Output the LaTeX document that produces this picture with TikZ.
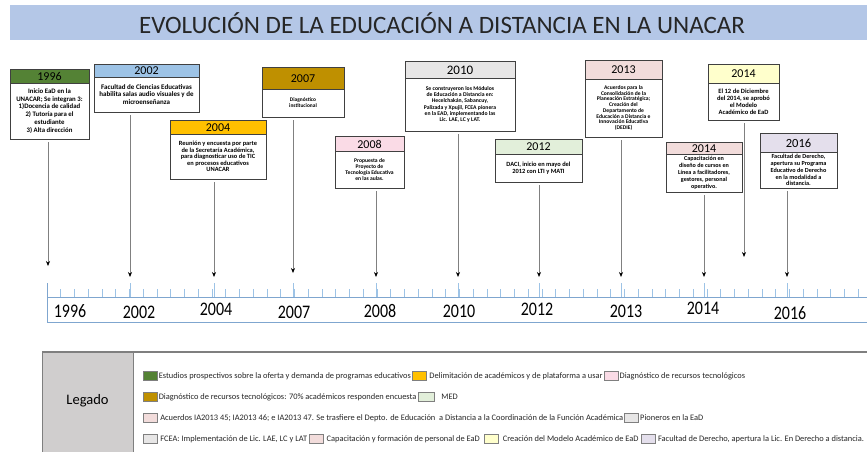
\documentclass[tikz,border=0pt]{standalone}
\usepackage{fontspec}
\setmainfont{Carlito}
\usetikzlibrary{arrows.meta,positioning}
\definecolor{titlebg}{HTML}{B4C7E7}
\definecolor{cgreen}{HTML}{548235}
\definecolor{cblue}{HTML}{9DC3E6}
\definecolor{cgold}{HTML}{FFC000}
\definecolor{cdgold}{HTML}{BF9000}
\definecolor{cpink}{HTML}{FADBE6}
\definecolor{cgray}{HTML}{E7E6E6}
\definecolor{cmed}{HTML}{E2EFDA}
\definecolor{crose}{HTML}{F2DCDB}
\definecolor{cyell}{HTML}{FFFFCC}
\definecolor{clav}{HTML}{E4DFEC}
\definecolor{boxline}{HTML}{404040}
\definecolor{connline}{HTML}{808080}
\definecolor{rulerline}{HTML}{7FA6CF}
\definecolor{tickcol}{HTML}{9DC3E6}
\definecolor{leggray}{HTML}{D0CECE}
\definecolor{legline}{HTML}{7F7F7F}
\definecolor{titletext}{HTML}{262626}
\newcommand{\fsz}[2]{\fontsize{#1}{#2}\selectfont}
\newcommand{\bfs}{}
\tikzset{
  evbox/.style={draw=boxline, line width=1.1pt, inner sep=0pt},
  hdrbox/.style={draw=boxline, line width=0.8pt, inner sep=0pt},
  bodytext/.style={align=center, inner sep=0pt, font=\bfseries\bfs},
  conn/.style={draw=connline, line width=0.7pt, -{Stealth[length=5pt,width=4pt,color=black]}},
  yearlbl/.style={font=\fontsize{16}{18}\selectfont, inner sep=0pt},
  sw/.style={draw=legline, line width=0.6pt, minimum width=14pt, minimum height=9pt, inner sep=0pt},
  lt/.style={font=\fontsize{8.4}{9}\selectfont, inner sep=1pt, text=black!85},
}
% name, x1, y1, x2, y2, header bottom, colour, year, body
\newcommand{\evt}[9]{%
  \node[hdrbox, fill=#7, minimum width={#4-#2}, minimum height={#6-#3}, anchor=north west] (#1-h) at (#2,#3) {};
  \node[inner sep=0pt] (#1-y) at ({(#2+#4)/2},{(#3+#6)/2+0.5}) {#8};
  \node[bodytext] (#1-t) at ({(#2+#4)/2},{(#6+#5)/2}) {#9};
  \node[evbox, minimum width={#4-#2}, minimum height={#5-#3}, anchor=north west] (#1) at (#2,#3) {};
}
\newcommand{\yr}[1]{\scalebox{1}[1.2]{#1}}
\begin{document}
\begin{tikzpicture}[x=1pt,y=-1pt]
\useasboundingbox (0,0) rectangle (867,451);
\fill[white] (0,0) rectangle (867,451);

% title
\node[fill=titlebg, minimum width=857pt, minimum height=35pt, anchor=north west, inner sep=0pt] (titlebar) at (10,5) {};
\node[text=titletext, font=\fontsize{25}{28}\selectfont, inner sep=0pt] (title) at (442,23) {EVOLUCIÓN DE LA EDUCACIÓN A DISTANCIA EN LA UNACAR};

% events
\renewcommand{\bfs}{\fsz{6.8}{7.8}}
\evt{e1996}{10}{69}{89}{139}{83}{cgreen}{\fsz{12}{13}1996}{Inicio EaD en la\\UNACAR; Se integran 3:\\1)Docencia de calidad\\2) Tutoría para el\\estudiante\\3) Alta dirección}
\renewcommand{\bfs}{\fsz{7}{7.4}}
\evt{e2002}{94}{64}{199}{112}{77}{cblue}{\fsz{12}{13}2002}{Facultad de Ciencias Educativas\\habilita salas audio visuales y de\\microenseñanza}
\renewcommand{\bfs}{\fsz{6.4}{6.6}}
\evt{e2004}{170}{120}{266}{179}{134}{cgold}{\fsz{12}{13}2004}{Reunión y encuesta por parte\\de la Secretaría Académica,\\para diagnosticar uso de TIC\\en procesos educativos\\UNACAR}
\renewcommand{\bfs}{\fsz{5.4}{6}}
\evt{e2007}{262}{67}{344}{117}{89}{cdgold}{\fsz{12}{13}2007}{Diagnóstico\\institucional}
\renewcommand{\bfs}{\fsz{5.6}{6.1}}
\evt{e2008}{335}{136}{404}{188}{151}{cpink}{\fsz{12}{13}2008}{Propuesta de\\Proyecto de\\Tecnología Educativa\\en las aulas.}
\renewcommand{\bfs}{\fsz{5.7}{6.2}}
\evt{e2010}{405}{61}{515}{131}{78}{cgray}{\fsz{13}{14}2010}{Se construyeron los Módulos\\de Educación a Distancia en:\\Hecelchakán, Sabancuy,\\Palizada y Xpujil, FCEA pionera\\en la EAD, implementando las\\Lic. LAE, LC y LAT.}
\renewcommand{\bfs}{\fsz{6.4}{6.6}}
\evt{e2012}{495}{139}{582}{182}{154}{cmed}{\fsz{12}{13}2012}{DACI, inicio en mayo del\\2012 con LTI y MATI}
\renewcommand{\bfs}{\fsz{5.6}{5.7}}
\evt{e2013}{585}{60}{662}{137}{79}{crose}{\fsz{12}{13}2013}{Acuerdos para la\\Consolidación de la\\Planeación Estratégica;\\Creación del\\Departamento de\\Educación a Distancia e\\Innovación Educativa\\(DEDIE)}
\renewcommand{\bfs}{\fsz{6.5}{7.1}}
\evt{e2014a}{708}{64}{779}{120}{83}{cyell}{\fsz{12}{13}2014}{El 12 de Diciembre\\del 2014, se aprobó\\el Modelo\\Académico de EaD}
\renewcommand{\bfs}{\fsz{6.1}{6.9}}
\evt{e2014b}{666}{142}{742}{192}{154}{crose}{\fsz{12}{13}2014}{Capacitación en\\diseño de cursos en\\Línea a facilitadores,\\gestores, personal\\operativo.}
\renewcommand{\bfs}{\fsz{6.2}{6.9}}
\evt{e2016}{760}{133}{837}{188}{152}{clav}{\fsz{12.5}{13}2016}{Facultad de Derecho,\\apertura su Programa\\Educativo de Derecho\\en la modalidad a\\distancia.}

% arrow ends
\coordinate (a1996) at (48,266);
\coordinate (a2002) at (130,277);
\coordinate (a2004) at (214,277);
\coordinate (a2007) at (293,273);
\coordinate (a2008) at (376,277);
\coordinate (a2010) at (458,277);
\coordinate (a2012) at (539,277);
\coordinate (a2013) at (621,277);
\coordinate (a2014b) at (704,277);
\coordinate (a2014a) at (744,257);
\coordinate (a2016) at (787,277);
\foreach \n in {1996,2002,2004,2007,2008,2010,2012,2013,2014a,2014b,2016}
  \draw[conn, shorten <=2pt] (e\n.south -| a\n) -- (a\n);

% ruler
\draw[rulerline, line width=0.8pt] (47,297) -- (870,297);
\draw[rulerline, line width=0.8pt] (47,322) -- (870,322);
\draw[rulerline, line width=0.8pt] (47,283) -- (47,322);
\foreach \i in {1,...,60}
  \draw[tickcol, line width=0.7pt] ({47+13.75*\i},289) -- ({47+13.75*\i},297);
\foreach \x in {130,214,293,376,458,539,621,704,787}
  \draw[tickcol, line width=0.8pt] (\x,283) -- (\x,297);

\node[yearlbl] (y1996) at (70,311) {\yr{1996}};
\node[yearlbl] (y2002) at (139,312) {\yr{2002}};
\node[yearlbl] (y2004) at (216,309) {\yr{2004}};
\node[yearlbl] (y2007) at (294,312) {\yr{2007}};
\node[yearlbl] (y2008) at (380,311) {\yr{2008}};
\node[yearlbl] (y2010) at (459,311) {\yr{2010}};
\node[yearlbl] (y2012) at (537,309) {\yr{2012}};
\node[yearlbl] (y2013) at (626,311) {\yr{2013}};
\node[yearlbl] (y2014) at (703,308) {\yr{2014}};
\node[yearlbl] (y2016) at (790,313) {\yr{2016}};

% legend
\draw[legline, line width=0.8pt] (42,352) rectangle (870,452);
\node[fill=leggray, draw=legline, line width=0.8pt, minimum width=91pt, minimum height=100pt, anchor=north west, inner sep=0pt] (legado) at (42,352) {};
\node[font=\fontsize{14.5}{16}\selectfont, inner sep=0pt] (legadot) at (87.5,401) {Legado};
\draw[legline, line width=2pt] (42,352) -- (870,352);

\node[sw, fill=cgreen, anchor=west] (s11) at (143,376) {};
\node[lt, anchor=west] (t11) at (s11.east) {Estudios prospectivos sobre la oferta y demanda de programas educativos};
\node[sw, fill=cgold, anchor=west] (s12) at (t11.east) {};
\node[lt, anchor=west, xshift=1.5pt] (t12) at (s12.east) {Delimitación de académicos y de plataforma a usar};
\node[sw, fill=cpink, anchor=west] (s13) at (t12.east) {};
\node[lt, anchor=west] (t13) at (s13.east) {Diagnóstico de recursos tecnológicos};

\node[sw, fill=cdgold, anchor=west] (s21) at (143,397) {};
\node[lt, anchor=west] (t21) at (s21.east) {Diagnóstico de recursos tecnológicos: 70\% académicos responden encuesta};
\node[sw, fill=cmed, anchor=west, minimum width=16pt] (s22) at (t21.east) {};
\node[lt, anchor=west, xshift=6pt] (t22) at (s22.east) {MED};

\node[sw, fill=crose, anchor=west] (s31) at (143,418) {};
\node[lt, anchor=west, xshift=1.5pt] (t31) at (s31.east) {Acuerdos IA2013 45; IA2013 46; e IA2013 47. Se trasfiere el Depto. de Educación~ a Distancia a la Coordinación de la Función Académica};
\node[sw, fill=cgray, anchor=west] (s32) at (t31.east) {};
\node[lt, anchor=west] (t32) at (s32.east) {Pioneros en la EaD};

\node[sw, fill=cgray, anchor=west] (s41) at (143,439) {};
\node[lt, anchor=west, xshift=1.5pt] (t41) at (s41.east) {FCEA: Implementación de Lic. LAE, LC y LAT};
\node[sw, fill=crose, anchor=west, xshift=1pt] (s42) at (t41.east) {};
\node[lt, anchor=west, xshift=1.5pt] (t42) at (s42.east) {Capacitación y formación de personal de EaD};
\node[sw, fill=cyell, anchor=west, xshift=3pt] (s43) at (t42.east) {};
\node[lt, anchor=west, xshift=3pt] (t43) at (s43.east) {Creación del Modelo Académico de EaD};
\node[sw, fill=clav, anchor=west, xshift=1pt] (s44) at (t43.east) {};
\node[lt, anchor=west, xshift=1.5pt] (t44) at (s44.east) {Facultad de Derecho, apertura la Lic. En Derecho a distancia.};
\end{tikzpicture}
\end{document}
